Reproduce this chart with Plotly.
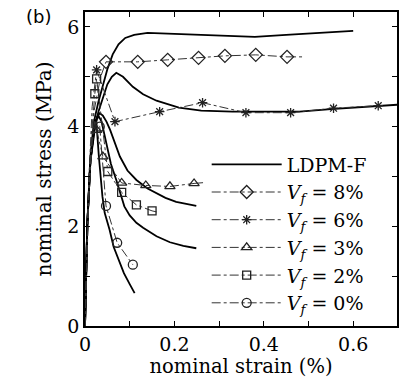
import plotly.graph_objects as go

# ---------------- data ----------------
# LDPM-F simulations (solid lines)
ldpm8_x = [0, 0.005, 0.012, 0.02, 0.03, 0.04, 0.05, 0.062, 0.075, 0.09, 0.11, 0.14, 0.2, 0.3, 0.38, 0.45, 0.52, 0.6]
ldpm8_y = [0, 2.0, 3.4, 4.1, 4.5, 4.85, 5.15, 5.45, 5.65, 5.78, 5.84, 5.88, 5.86, 5.82, 5.8, 5.84, 5.88, 5.92]

ldpm6_x = [0, 0.005, 0.012, 0.02, 0.03, 0.04, 0.05, 0.06, 0.07, 0.085, 0.107, 0.13, 0.16, 0.21, 0.26, 0.33, 0.4, 0.48, 0.55, 0.63, 0.7]
ldpm6_y = [0, 2.0, 3.3, 3.9, 4.3, 4.6, 4.85, 5.0, 5.08, 5.0, 4.8, 4.65, 4.52, 4.38, 4.32, 4.3, 4.3, 4.3, 4.35, 4.4, 4.44]

ldpm3_x = [0, 0.005, 0.012, 0.02, 0.027, 0.033, 0.04, 0.048, 0.056, 0.067, 0.078, 0.095, 0.115, 0.14, 0.16, 0.18, 0.204, 0.23, 0.249]
ldpm3_y = [0, 2.0, 3.3, 3.95, 4.2, 4.27, 4.22, 4.1, 3.94, 3.65, 3.4, 3.12, 2.93, 2.76, 2.67, 2.57, 2.49, 2.44, 2.41]

ldpm2_x = [0, 0.005, 0.012, 0.02, 0.026, 0.031, 0.037, 0.043, 0.048, 0.058, 0.07, 0.088, 0.1, 0.115, 0.13, 0.16, 0.19, 0.22, 0.249]
ldpm2_y = [0, 2.0, 3.3, 3.95, 4.15, 4.2, 4.1, 3.85, 3.6, 3.25, 2.93, 2.4, 2.22, 2.07, 1.97, 1.8, 1.68, 1.61, 1.56]

ldpm0_x = [0, 0.005, 0.012, 0.02, 0.025, 0.031, 0.039, 0.044, 0.055, 0.064, 0.078, 0.087, 0.1, 0.111]
ldpm0_y = [0, 2.0, 3.3, 3.9, 4.15, 3.4, 2.6, 2.27, 1.93, 1.59, 1.26, 1.06, 0.84, 0.66]

# Experiments: marker points, plus initial rise and tail (dash-dot only)
exp8_x = [0.047, 0.118, 0.185, 0.254, 0.313, 0.382, 0.452]
exp8_y = [5.3, 5.3, 5.34, 5.38, 5.42, 5.44, 5.4]
exp8_rise_x = [0, 0.01, 0.02, 0.035, 0.047]
exp8_rise_y = [0, 3.0, 4.3, 5.0, 5.3]
exp8_tail_x = [0.452, 0.49]
exp8_tail_y = [5.4, 5.4]

exp6_x = [0.026, 0.067, 0.167, 0.263, 0.36, 0.46, 0.556, 0.656]
exp6_y = [5.14, 4.1, 4.3, 4.48, 4.28, 4.28, 4.37, 4.42]
exp6_rise_x = [0, 0.008, 0.016, 0.026]
exp6_rise_y = [0, 2.8, 4.4, 5.14]

exp3_x = [0.026, 0.04, 0.082, 0.136, 0.19, 0.244]
exp3_y = [3.93, 3.4, 2.87, 2.82, 2.8, 2.86]
exp3_rise_x = [0, 0.008, 0.016, 0.022, 0.026]
exp3_rise_y = [0, 2.6, 3.8, 4.1, 3.93]
exp3_tail_x = [0.244, 0.27]
exp3_tail_y = [2.86, 2.88]

exp2_x = [0.022, 0.026, 0.051, 0.082, 0.115, 0.15]
exp2_y = [4.66, 4.96, 3.1, 2.68, 2.43, 2.31]
exp2_rise_x = [0, 0.008, 0.016, 0.022]
exp2_rise_y = [0, 2.6, 4.0, 4.66]
exp2_tail_x = [0.15, 0.16]
exp2_tail_y = [2.31, 2.29]

exp0_x = [0.033, 0.047, 0.072, 0.107]
exp0_y = [4.0, 2.41, 1.67, 1.23]
exp0_rise_x = [0, 0.008, 0.016, 0.025, 0.033]
exp0_rise_y = [0, 2.5, 3.7, 4.1, 4.0]

x_tickvals = [0, 0.1, 0.2, 0.3, 0.4, 0.5, 0.6]
x_ticktext = ["0", "", "0.2", "", "0.4", "", "0.6"]
y_tickvals = [0, 1, 2, 3, 4, 5, 6]
y_ticktext = ["0", "", "2", "", "4", "", "6"]

# ---------------- figure ----------------
SERIF = "DejaVu Serif"
fig = go.Figure()

ldpm = [(ldpm8_x, ldpm8_y), (ldpm6_x, ldpm6_y), (ldpm3_x, ldpm3_y), (ldpm2_x, ldpm2_y), (ldpm0_x, ldpm0_y)]
for i, (xs, ys) in enumerate(ldpm):
    fig.add_trace(go.Scatter(x=xs, y=ys, mode="lines", line=dict(color="black", width=1.8),
                             name="LDPM-F", showlegend=(i == 0), legendgroup="ldpm"))

exps = [
    ("8", exp8_x, exp8_y, exp8_rise_x, exp8_rise_y, exp8_tail_x, exp8_tail_y, "diamond-open", 10),
    ("6", exp6_x, exp6_y, exp6_rise_x, exp6_rise_y, None, None, "asterisk-open", 8),
    ("3", exp3_x, exp3_y, exp3_rise_x, exp3_rise_y, exp3_tail_x, exp3_tail_y, "triangle-up-open", 9),
    ("2", exp2_x, exp2_y, exp2_rise_x, exp2_rise_y, exp2_tail_x, exp2_tail_y, "square-open", 8),
    ("0", exp0_x, exp0_y, exp0_rise_x, exp0_rise_y, None, None, "circle-open", 9),
]
for lab, mx, my, rx, ry, tx, ty, sym, ms in exps:
    g = "exp" + lab
    for px, py in ((rx, ry), (tx, ty)):
        if px is not None:
            fig.add_trace(go.Scatter(x=px, y=py, mode="lines", showlegend=False, legendgroup=g,
                                     line=dict(color="#333", width=1, dash="dashdot")))
    fig.add_trace(go.Scatter(
        x=mx, y=my, mode="lines+markers", legendgroup=g,
        name="<i>V</i><sub><i>f</i></sub> = " + lab + "%",
        line=dict(color="#333", width=1, dash="dashdot"),
        marker=dict(symbol=sym, size=ms, color="#222", line=dict(width=1.3, color="#222")),
    ))

axis_common = dict(showline=True, linecolor="black", linewidth=1.5, mirror="ticks",
                   ticks="inside", ticklen=5, tickcolor="black", showgrid=False, zeroline=False,
                   tickfont=dict(family=SERIF, size=19, color="black"))

fig.update_layout(
    width=404, height=384,
    margin=dict(l=85, r=5, t=12, b=58),
    plot_bgcolor="white", paper_bgcolor="white",
    font=dict(family=SERIF, color="black"),
    xaxis=dict(range=[0, 0.698], tickvals=x_tickvals, ticktext=x_ticktext,
               title=dict(text="nominal strain (%)", font=dict(family=SERIF, size=19.5), standoff=4),
               **axis_common),
    yaxis=dict(range=[0, 6.3], tickvals=y_tickvals, ticktext=y_ticktext,
               title=dict(text="nominal stress (MPa)", font=dict(family=SERIF, size=20), standoff=10),
               **axis_common),
    legend=dict(x=0.39, y=0.575, xanchor="left", yanchor="top", bgcolor="rgba(0,0,0,0)",
                font=dict(family=SERIF, size=19, color="black"), itemwidth=70, tracegroupgap=0),
    showlegend=True,
)

fig.add_annotation(text="(b)", xref="paper", yref="paper", x=-0.195, y=1.025, xanchor="left", yanchor="top",
                   showarrow=False, font=dict(family="DejaVu Sans", size=18, color="black"))

fig.write_html("out.html")
